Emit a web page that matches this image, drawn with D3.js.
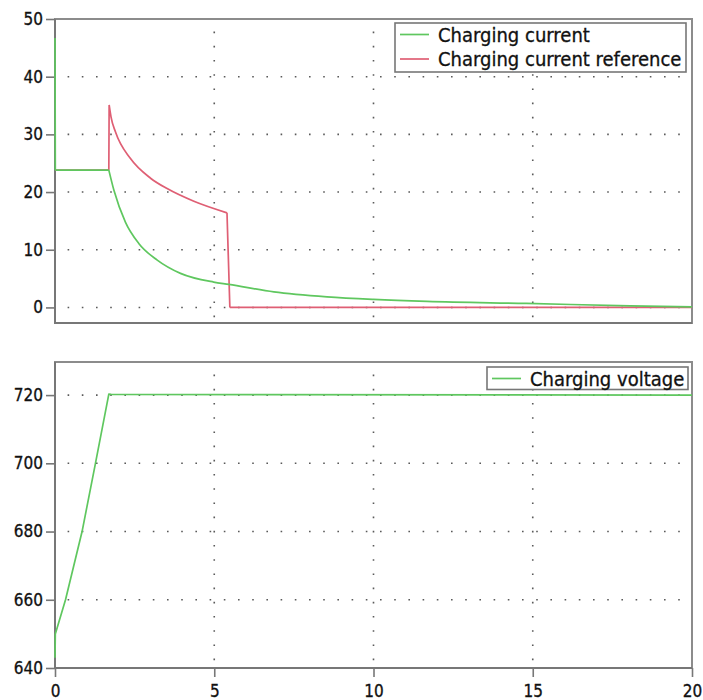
<!DOCTYPE html>
<html>
<head>
<meta charset="utf-8">
<script src="https://cdn.jsdelivr.net/npm/d3@7"></script>
<style>
  body { margin: 0; background: #fff; }
  svg { display: block; }
  .tick text { font-family: "DejaVu Sans Condensed", "DejaVu Sans", sans-serif; font-size: 17px; fill: #111; stroke: #111; stroke-width: 0.3px; }
  .legend text { font-family: "DejaVu Sans Condensed", "DejaVu Sans", sans-serif; font-size: 20px; fill: #111; stroke: #111; stroke-width: 0.3px; }
</style>
</head>
<body>
<svg id="chart" width="703" height="700"></svg>
<script>
// charging current (top panel)
var currentTime  = [0, 0.01, 1.69, 1.85, 2.21, 2.63, 3.21, 3.94, 4.98, 5.46, 6.87, 8.54, 10.0, 11.68, 14.8, 18.06, 20];
var currentValue = [46.7, 23.8, 23.8, 20.3, 14.8, 11.1, 8.2, 5.9, 4.4, 4.0, 2.7, 1.84, 1.39, 1.04, 0.69, 0.28, 0.1];

// charging current reference (top panel)
var refTime  = [0, 1.69, 1.70, 1.76, 1.90, 2.37, 3.0, 3.52, 4.36, 5.40, 5.49, 20];
var refValue = [23.8, 23.8, 35.1, 33.0, 30.4, 25.8, 22.4, 20.6, 18.4, 16.4, 0, 0];

// charging voltage (bottom panel)
var voltTime  = [0, 0.01, 0.33, 0.85, 1.27, 1.69, 1.76, 20];
var voltValue = [643, 650, 660, 680, 700, 720.3, 720.2, 720];

var xTicks = [0, 5, 10, 15, 20];
var currentTicks = [0, 10, 20, 30, 40, 50];
var voltTicks = [640, 660, 680, 700, 720];

var GREEN = "#5fc75f", RED = "#df5f74", FRAME = "#8c8c8c", AXIS = "#777";

var svg = d3.select("#chart"),
	left = 55, right = 692;

var x = d3.scaleLinear().domain([0, 20]).range([left, right]);
var yTop = d3.scaleLinear().domain([-2.7, 50]).range([323, 19]);
var yBot = d3.scaleLinear().domain([640, 729.7]).range([668, 362]);

function panel(y, yTicks, showX) {
	var g = svg.append("g"),
		top = y.range()[1], bottom = y.range()[0];

	// dotted grid
	g.selectAll(".hgrid")
		.data(yTicks.filter(function (d) { return y(d) > top + 1; }))
		.enter().append("line")
		.attr("x1", left).attr("x2", right)
		.attr("y1", function (d) { return y(d); }).attr("y2", function (d) { return y(d); })
		.attr("stroke", "#5a5a5a").attr("stroke-width", 1.6)
		.attr("stroke-dasharray", "1.6,12.6").attr("stroke-dashoffset", -12.6);
	g.selectAll(".vgrid")
		.data([5, 10, 15])
		.enter().append("line")
		.attr("y1", top).attr("y2", bottom)
		.attr("x1", function (d) { return x(d); }).attr("x2", function (d) { return x(d); })
		.attr("stroke", "#5a5a5a").attr("stroke-width", 1.6)
		.attr("stroke-dasharray", "1.6,12.6").attr("stroke-dashoffset", -12.6);

	// frame
	g.append("rect")
		.attr("x", left).attr("y", top)
		.attr("width", right - left).attr("height", bottom - top)
		.attr("fill", "none").attr("stroke", FRAME).attr("stroke-width", 2);
	g.append("path")
		.attr("d", "M" + left + " " + top + "V" + bottom + "H" + right)
		.attr("fill", "none").attr("stroke", AXIS).attr("stroke-width", 2);

	var ya = g.append("g")
		.attr("transform", "translate(" + left + ",0)")
		.call(d3.axisLeft(y).tickValues(yTicks).tickSize(9).tickPadding(3));
	ya.select(".domain").remove();
	ya.selectAll(".tick line").attr("stroke", AXIS).attr("stroke-width", 1.6);

	if (showX) {
		var xa = g.append("g")
			.attr("transform", "translate(0," + bottom + ")")
			.call(d3.axisBottom(x).tickValues(xTicks).tickSize(9).tickPadding(8));
		xa.select(".domain").remove();
		xa.selectAll(".tick line").attr("stroke", AXIS).attr("stroke-width", 1.6);
	}
	return g;
}

// split a series at steps and flat stretches so the smooth parts keep sharp corners
function pieces(points) {
	var out = [], cur = [points[0]];
	for (var i = 1; i < points.length; i++) {
		var a = points[i - 1], b = points[i],
			slope = (b[1] - a[1]) / (b[0] - a[0]),
			hard = Math.abs(slope) > 100 || slope === 0;
		if (hard) {
			if (cur.length > 1) out.push(cur);
			out.push([a, b]);
			cur = [b];
		} else {
			cur.push(b);
		}
	}
	if (cur.length > 1) out.push(cur);
	return out;
}

function series(g, y, t, v, color, curve) {
	var line = d3.line()
		.x(function (d) { return x(d[0]); })
		.y(function (d) { return y(d[1]); })
		.curve(curve);
	g.append("path")
		.attr("fill", "none")
		.attr("stroke", color)
		.attr("stroke-width", 1.7)
		.attr("stroke-linejoin", "round")
		.attr("d", pieces(d3.zip(t, v)).map(line).join(""));
}

function legend(g, box, items) {
	var l = g.append("g").attr("class", "legend");
	l.append("rect")
		.attr("x", box[0]).attr("y", box[1])
		.attr("width", box[2]).attr("height", box[3])
		.attr("fill", "#fff").attr("stroke", "#777").attr("stroke-width", 1.6);
	items.forEach(function (item, i) {
		var cy = box[1] + 11.5 + i * 24.5;
		l.append("line")
			.attr("x1", box[0] + 5).attr("x2", box[0] + 34)
			.attr("y1", cy).attr("y2", cy)
			.attr("stroke", item.color).attr("stroke-width", 1.7);
		l.append("text")
			.attr("x", box[0] + 43).attr("y", cy + 7)
			.text(item.name);
	});
}

var topPanel = panel(yTop, currentTicks, false);
series(topPanel, yTop, refTime, refValue, RED, d3.curveMonotoneX);
series(topPanel, yTop, currentTime, currentValue, GREEN, d3.curveMonotoneX);
legend(topPanel, [395, 23, 291, 49], [
	{name: "Charging current", color: GREEN},
	{name: "Charging current reference", color: RED}
]);

var botPanel = panel(yBot, voltTicks, true);
series(botPanel, yBot, voltTime, voltValue, GREEN, d3.curveLinear);
legend(botPanel, [487, 367, 201, 22.5], [
	{name: "Charging voltage", color: GREEN}
]);
</script>
</body>
</html>
